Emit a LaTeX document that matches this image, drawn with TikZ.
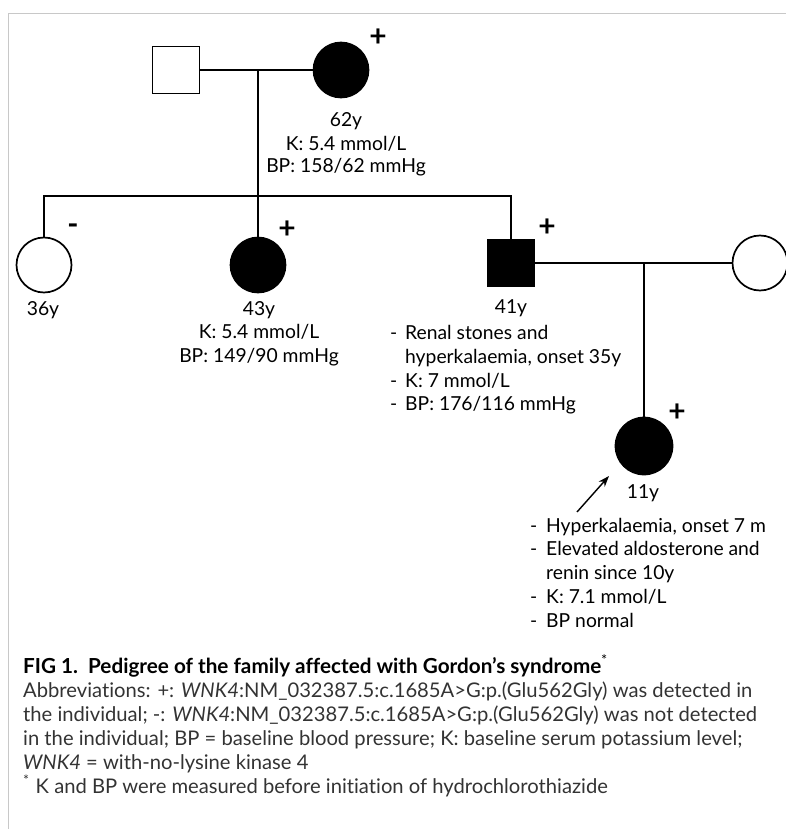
\documentclass[tikz,border=0pt]{standalone}
\usepackage{fontspec}
\setmainfont{Lato}[Ligatures={NoCommon}]
\usetikzlibrary{arrows.meta}
\definecolor{capgray}{HTML}{333333}
\definecolor{framegray}{HTML}{C8C8C8}
\begin{document}
\begin{tikzpicture}[x=1pt,y=-1pt,
  ped/.style={line width=1.7pt},
  male/.style={rectangle, draw, line width=1.7pt, minimum size=47pt, inner sep=0pt},
  female/.style={circle, draw, line width=1.7pt, minimum size=55pt, inner sep=0pt},
  aff/.style={fill=black},
  lbl/.style={font=\fontsize{19.3}{23}\selectfont, inner sep=0pt, anchor=base},
  lbll/.style={lbl, anchor=base west},
  sign/.style={font=\fontsize{30}{30}\selectfont\bfseries, inner sep=0pt},
  captext/.style={font=\fontsize{20.2}{24}\selectfont, text=capgray, inner sep=0pt, anchor=base west},
  caphead/.style={font=\fontsize{20.7}{24}\selectfont\bfseries, text=black, inner sep=0pt, anchor=base west}]
\useasboundingbox (0,0) rectangle (786,829);
\draw[framegray, line width=1.5pt] (8.5,829) -- (8.5,13.5) -- (786,13.5);

% generation I
\node[male] (f) at (176,70) {};
\node[female,aff] (m) at (341,70) {};
\coordinate (c1) at (258,70);
\draw[ped] (f.east) -- (m.west);
\node[sign] (pm) at (378,38) {+};
\node[lbl] (m1) at (346,127) {62y};
\node[lbl] (m2) at (346,151) {K: 5.4 mmol/L};
\node[lbl] (m3) at (346,173) {BP: 158/62 mmHg};

% generation II
\coordinate (sL) at (44,196);
\coordinate (sM) at (258,196);
\coordinate (sR) at (511,196);
\node[female] (d1) at (44,265) {};
\node[female,aff] (d2) at (258,265) {};
\node[male,aff] (s) at (511,263) {};
\node[female] (w) at (760,263) {};
\draw[ped] (c1) -- (sM);
\draw[ped] (d1.north) -- (sL) -- (sR) -- (s.north);
\draw[ped] (sM) -- (d2.north);
\draw[ped] (s.east) -- (w.west);
\node[sign] (pd1) at (73,229) {-};
\node[sign] (pd2) at (287,230) {+};
\node[sign] (ps) at (547,228) {+};
\node[lbl] (d1a) at (43,315) {36y};
\node[lbl] (d2a) at (259,315) {43y};
\node[lbl] (d2b) at (259,338) {K: 5.4 mmol/L};
\node[lbl] (d2c) at (259,362) {BP: 149/90 mmHg};
\node[lbl] (sa) at (511,313) {41y};
\node[lbll] (sb0) at (390,339) {-};
\node[lbll] (sb) at (405,339) {Renal stones and};
\node[lbll] (sc) at (405,363) {hyperkalaemia, onset 35y};
\node[lbll] (sd0) at (390,387) {-};
\node[lbll] (sd) at (405,387) {K: 7 mmol/L};
\node[lbll] (se0) at (390,410) {-};
\node[lbll] (se) at (405,410) {BP: 176/116 mmHg};

% generation III
\coordinate (c2) at (644,263);
\node[female,aff,minimum size=57pt] (ch) at (644,446) {};
\draw[ped] (c2) -- (ch.north);
\node[sign] (pch) at (677,413) {+};
\coordinate (a0) at (577,512);
\coordinate (a1) at (609,476);
\draw[line width=1.4pt, -{Stealth[length=11pt,width=8pt]}] (a0) -- (a1);
\node[lbl] (cha) at (643,498) {11y};
\node[lbll] (chb0) at (530,532) {-};
\node[lbll] (chb) at (546,532) {Hyperkalaemia, onset 7 m};
\node[lbll] (chc0) at (530,555) {-};
\node[lbll] (chc) at (546,555) {Elevated aldosterone and};
\node[lbll] (chd) at (546,579) {renin since 10y};
\node[lbll] (che0) at (530,603) {-};
\node[lbll] (che) at (546,603) {K: 7.1 mmol/L};
\node[lbll] (chf0) at (530,627) {-};
\node[lbll] (chf) at (546,627) {BP normal};

% caption
\node[caphead] (t0) at (23,673) {FIG 1.\ \ Pedigree of the family affected with Gordon’s syndrome\textsuperscript{\normalfont *}};
\node[captext] (t1) at (23,697) {Abbreviations: +: \textit{WNK4}:NM\_032387.5:c.1685A>G:p.(Glu562Gly) was detected in};
\node[captext] (t2) at (23,721) {the individual; -: \textit{WNK4}:NM\_032387.5:c.1685A>G:p.(Glu562Gly) was not detected};
\node[captext] (t3) at (23,745) {in the individual; BP = baseline blood pressure; K: baseline serum potassium level;};
\node[captext] (t4) at (23,769) {\textit{WNK4} = with-no-lysine kinase 4};
\node[captext] (t5) at (23,793) {\textsuperscript{*}\hspace{6pt}K and BP were measured before initiation of hydrochlorothiazide};
\end{tikzpicture}
\end{document}
